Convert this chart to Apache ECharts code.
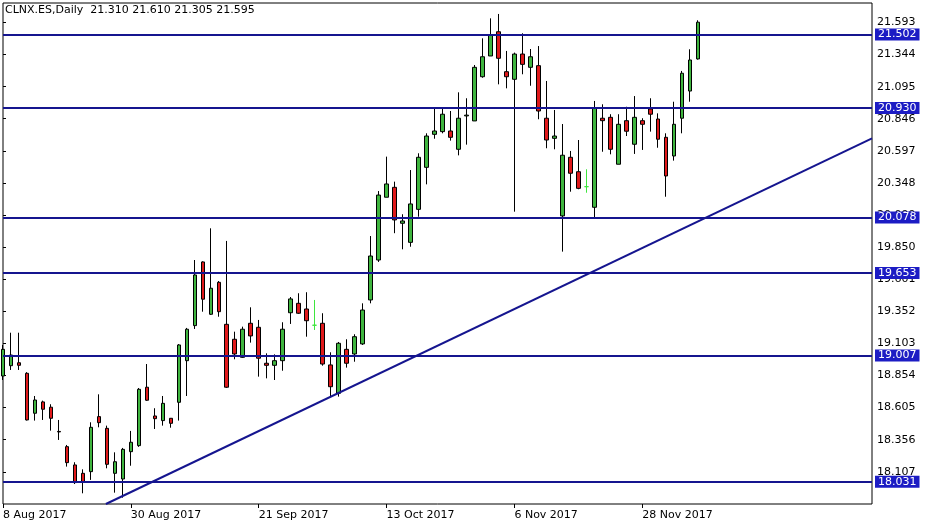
<!DOCTYPE html>
<html>
<head>
<meta charset="utf-8">
<title>CLNX.ES Daily</title>
<script src="https://cdn.jsdelivr.net/npm/echarts@6/dist/echarts.min.js"></script>
<style>
html, body { margin: 0; padding: 0; background: #ffffff; }
#chart { width: 928px; height: 528px; }
</style>
</head>
<body>
<div id="chart"></div>
<script>
// daily bars, 8 Aug 2017 .. 7 Dec 2017 (index = bar number)
const opens = [
    18.850, 18.930, 18.953, 18.871, 18.561, 18.649, 18.608, 18.420, 18.302, 18.160,
    18.095, 18.108, 18.535, 18.444, 18.095, 18.051, 18.263, 18.310, 18.763, 18.540,
    18.504, 18.522, 18.646, 18.969, 19.241, 19.735, 19.329, 19.577, 19.251, 19.135,
    18.995, 19.259, 19.228, 18.949, 18.933, 18.969, 19.341, 19.414, 19.370, 19.244,
    19.259, 18.936, 18.716, 19.057, 19.021, 19.099, 19.440, 19.750, 20.237, 20.314,
    20.035, 19.887, 20.143, 20.469, 20.725, 20.746, 20.751, 20.609, 20.868, 20.829,
    21.172, 21.333, 21.521, 21.211, 21.152, 21.348, 21.245, 21.258, 20.850, 20.694,
    20.092, 20.547, 20.435, 20.319, 20.159, 20.850, 20.857, 20.493, 20.831, 20.648,
    20.831, 20.922, 20.844, 20.702, 20.557, 20.850, 21.061, 21.310
]
const highs = [
    19.091, 19.186, 19.186, 18.880, 18.695, 18.659, 18.631, 18.509, 18.315, 18.181,
    18.126, 18.491, 18.708, 18.465, 18.258, 18.292, 18.424, 18.757, 18.943, 18.600,
    18.695, 18.524, 19.098, 19.223, 19.750, 19.740, 19.996, 19.587, 19.898, 19.194,
    19.233, 19.383, 19.285, 19.026, 19.018, 19.267, 19.463, 19.492, 19.500, 19.440,
    19.337, 19.034, 19.114, 19.135, 19.174, 19.414, 19.936, 20.285, 20.552, 20.358,
    20.105, 20.448, 20.578, 20.733, 20.927, 20.927, 20.906, 21.051, 21.005, 21.263,
    21.470, 21.625, 21.659, 21.372, 21.359, 21.509, 21.387, 21.410, 21.139, 20.914,
    20.805, 20.596, 20.681, 20.454, 20.984, 20.958, 20.881, 20.881, 20.939, 21.022,
    20.850, 21.005, 20.888, 20.733, 20.978, 21.217, 21.385, 21.610
]
const lows = [
    18.819, 18.897, 18.897, 18.505, 18.504, 18.509, 18.426, 18.354, 18.147, 18.012,
    17.940, 18.044, 18.452, 18.134, 17.945, 17.906, 18.154, 18.300, 18.657, 18.439,
    18.465, 18.449, 18.504, 18.695, 19.215, 19.349, 19.324, 19.310, 18.757, 18.980,
    18.990, 19.109, 18.845, 18.832, 18.819, 18.891, 19.254, 19.332, 19.155, 19.207,
    18.930, 18.690, 18.690, 18.915, 18.961, 19.091, 19.414, 19.735, 20.237, 19.958,
    19.833, 19.853, 20.086, 20.337, 20.691, 20.733, 20.676, 20.562, 20.645, 20.829,
    21.164, 21.333, 21.113, 21.082, 20.125, 21.191, 21.102, 20.842, 20.617, 20.609,
    19.815, 20.280, 20.299, 20.272, 20.073, 20.590, 20.570, 20.493, 20.712, 20.573,
    20.604, 20.746, 20.621, 20.241, 20.521, 20.733, 20.978, 21.305
]
const closes = [
    19.057, 19.013, 18.933, 18.509, 18.664, 18.592, 18.522, 18.416, 18.178, 18.023,
    18.030, 18.452, 18.488, 18.165, 18.185, 18.281, 18.336, 18.747, 18.662, 18.519,
    18.638, 18.483, 19.091, 19.213, 19.634, 19.446, 19.531, 19.349, 18.763, 19.021,
    19.213, 19.161, 18.988, 18.933, 18.969, 19.213, 19.448, 19.337, 19.279, 19.244,
    18.943, 18.767, 19.104, 18.949, 19.155, 19.362, 19.781, 20.254, 20.340, 20.061,
    20.053, 20.185, 20.547, 20.712, 20.751, 20.881, 20.702, 20.850, 20.874, 21.245,
    21.327, 21.496, 21.315, 21.172, 21.348, 21.268, 21.327, 20.906, 20.681, 20.712,
    20.563, 20.423, 20.306, 20.319, 20.927, 20.831, 20.609, 20.803, 20.749, 20.857,
    20.803, 20.881, 20.687, 20.402, 20.803, 21.199, 21.302, 21.595
]

// date labels and the bar they sit on
const dateLabels = ['8 Aug 2017', '30 Aug 2017', '21 Sep 2017', '13 Oct 2017', '6 Nov 2017', '28 Nov 2017']
const dateBars = [0, 16, 32, 48, 64, 80]

// price scale ticks
const priceTicks = [18.107, 18.356, 18.605, 18.854, 19.103, 19.352, 19.601, 19.850,
    20.099, 20.348, 20.597, 20.846, 21.095, 21.344, 21.593]

// horizontal levels and the rising trendline (bar, price)
const levels = [21.502, 20.930, 20.078, 19.653, 19.007, 18.031]
const trendStart = [12.875, 17.857]
const trendEnd = [108.75, 20.693]

const FONT = 'DejaVu Sans'
const LINE_COLOR = '#15158f'

function createData(){
    const rows = []
    for(let i = 0; i < opens.length; i++){
        const item = {value: [i, opens[i], closes[i], lows[i], highs[i]]}
        if(opens[i] === closes[i]){
            // MT4 draws exact dojis in the line colour
            item.itemStyle = {borderColor: '#3ee63e', borderColor0: '#3ee63e', borderColorDoji: '#3ee63e'}
        }
        rows.push(item)
    }
    return rows
}

function createMarkLine(){
    const data = levels.map(v => ({
        yAxis: v,
        label: {
            show: true,
            position: 'end',
            distance: 3,
            formatter: v.toFixed(3),
            color: '#ffffff',
            backgroundColor: '#1c1cc4',
            padding: [0, 3, 0, 3],
            lineHeight: 12,
            fontFamily: FONT,
            fontSize: 11
        }
    }))
    data.push([{coord: trendStart}, {coord: trendEnd}])
    return {
        silent: true,
        symbol: ['none', 'none'],
        animation: false,
        lineStyle: {color: LINE_COLOR, width: 2, type: 'solid'},
        label: {show: false},
        data: data
    }
}

const chart = echarts.init(document.getElementById('chart'), null, {renderer: 'canvas'})
chart.setOption({
    animation: false,
    backgroundColor: '#ffffff',
    title: {
        text: 'CLNX.ES,Daily  21.310 21.610 21.305 21.595',
        left: 5,
        top: 5,
        padding: 0,
        textStyle: {fontFamily: FONT, fontSize: 11, fontWeight: 'normal', color: '#000000'}
    },
    grid: {
        left: 2, top: 3, right: 56, bottom: 24,
        show: true, borderColor: '#000000', borderWidth: 1, backgroundColor: '#ffffff'
    },
    xAxis: {
        type: 'value',
        min: 0,
        max: 108.75,
        position: 'bottom',
        axisLine: {show: false},
        splitLine: {show: false},
        axisTick: {show: true, customValues: dateBars, length: 4, lineStyle: {color: '#000000'}},
        axisLabel: {
            customValues: dateBars,
            formatter: v => dateLabels[dateBars.indexOf(Math.round(v))] || '',
            align: 'left',
            margin: 6,
            color: '#000000',
            fontFamily: FONT,
            fontSize: 11
        }
    },
    yAxis: {
        type: 'value',
        position: 'right',
        min: 17.857,
        max: 21.744,
        axisLine: {show: false},
        splitLine: {show: false},
        axisTick: {show: true, customValues: priceTicks, length: 3, lineStyle: {color: '#000000'}},
        axisLabel: {
            customValues: priceTicks,
            formatter: v => v.toFixed(3),
            margin: 5,
            color: '#000000',
            fontFamily: FONT,
            fontSize: 11
        }
    },
    series: [{
        type: 'candlestick',
        encode: {x: 0, y: [1, 2, 3, 4]},
        barWidth: 4,
        clip: true,
        itemStyle: {
            color: '#3fb53f',
            color0: '#e0191b',
            borderColor: '#000000',
            borderColor0: '#000000',
            borderColorDoji: '#000000',
            borderWidth: 1
        },
        data: createData(),
        markLine: createMarkLine()
    }]
})
</script>
</body>
</html>
